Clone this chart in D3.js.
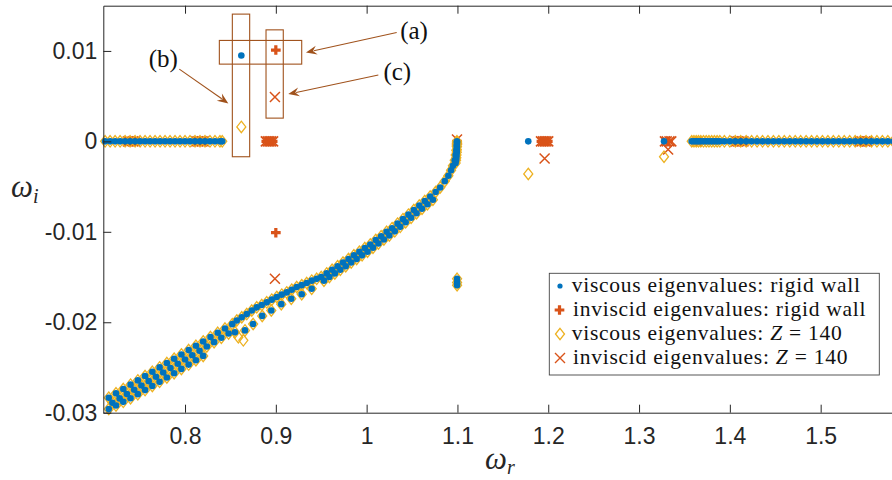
<!DOCTYPE html>
<html>
<head>
<meta charset="utf-8">
<script src="https://cdn.jsdelivr.net/npm/d3@7"></script>
<style>
  body { margin: 0; background: #fff; }
  svg { display: block; }
</style>
</head>
<body>
<script>
const width = 892
const height = 480
const margin = {top: 5.7, right: -1.3, bottom: 67.3, left: 103.3}

const blue = '#0072BD'
const red = '#D95319'
const yellow = '#EDB120'
const brown = '#a0521c'
const axisColor = '#262626'

// tick values and labels
const xTicks = [0.8, 0.9, 1, 1.1, 1.2, 1.3, 1.4, 1.5]
const xTickLabels = ['0.8', '0.9', '1', '1.1', '1.2', '1.3', '1.4', '1.5']
const yTicks = [0.01, 0, -0.01, -0.02, -0.03]
const yTickLabels = ['0.01', '0', '-0.01', '-0.02', '-0.03']

// omega_r of the neutral eigenvalues sitting on omega_i = 0 (both viscous series)
const zeroLeft = [0.712, 0.7175, 0.723, 0.7285, 0.734, 0.7395, 0.745, 0.7505, 0.756, 0.7615,
  0.767, 0.7725, 0.778, 0.7835, 0.789, 0.7945, 0.800, 0.8055, 0.811, 0.8165, 0.822, 0.8275,
  0.833, 0.8385, 0.841]
const zeroRight = [1.358, 1.3605, 1.363, 1.3655, 1.368, 1.371, 1.374, 1.377, 1.380, 1.383,
  1.386, 1.389, 1.394, 1.400, 1.406, 1.412, 1.418, 1.424, 1.430, 1.436, 1.442, 1.448, 1.454,
  1.460, 1.466, 1.472, 1.478, 1.484, 1.490, 1.496, 1.502, 1.508, 1.514, 1.520, 1.526, 1.532,
  1.538, 1.544, 1.550, 1.556, 1.562, 1.568, 1.574, 1.580]

// damped branch [omega_r, omega_i] (both viscous series)
const bandPts = [
  // upper row
  [0.716, -0.02834], [0.724, -0.02786], [0.732, -0.02738], [0.740, -0.02690], [0.748, -0.02643],
  [0.756, -0.02595], [0.764, -0.02547], [0.772, -0.02499], [0.780, -0.02451], [0.788, -0.02403],
  [0.796, -0.02356], [0.804, -0.02308], [0.812, -0.02260], [0.820, -0.02212], [0.828, -0.02164],
  [0.836, -0.02116], [0.844, -0.02069], [0.852, -0.02021],
  // middle row
  [0.720, -0.02890], [0.728, -0.02842], [0.736, -0.02794], [0.744, -0.02746], [0.752, -0.02699],
  [0.760, -0.02651], [0.768, -0.02603], [0.776, -0.02555], [0.784, -0.02507], [0.792, -0.02459],
  [0.800, -0.02412], [0.808, -0.02364], [0.816, -0.02316], [0.824, -0.02268], [0.832, -0.02220],
  [0.840, -0.02172], [0.848, -0.02125],
  // lower row
  [0.716, -0.02960], [0.724, -0.02920], [0.732, -0.02880], [0.740, -0.02840], [0.748, -0.02795],
  [0.756, -0.02750], [0.764, -0.02705], [0.772, -0.02659], [0.780, -0.02611], [0.788, -0.02563],
  [0.796, -0.02516], [0.804, -0.02468], [0.812, -0.02420], [0.820, -0.02372],
  // after the kink
  [0.855, -0.0211], [0.866, -0.0209], [0.875, -0.0202], [0.885, -0.0193], [0.895, -0.0187],
  [0.906, -0.0180], [0.917, -0.0174], [0.9285, -0.0169], [0.9395, -0.0163],
  [0.857, -0.0198], [0.8625, -0.01945], [0.868, -0.0191], [0.8735, -0.0187], [0.879, -0.01835],
  [0.8845, -0.0181], [0.890, -0.0178], [0.8955, -0.0175], [0.901, -0.0172], [0.9065, -0.01695],
  [0.912, -0.0167], [0.9175, -0.0164], [0.923, -0.0161], [0.9285, -0.0159], [0.934, -0.01566],
  [0.9395, -0.0154], [0.945, -0.0152],
  // towards omega_r = 1.1
  [0.950, -0.0150], [0.956, -0.0146], [0.962, -0.0142], [0.968, -0.0138], [0.974, -0.0134],
  [0.980, -0.0130], [0.986, -0.0126], [0.992, -0.0122], [0.998, -0.0118], [1.004, -0.0114],
  [1.010, -0.0109], [1.016, -0.0105], [1.022, -0.0100], [1.028, -0.0096], [1.034, -0.0091],
  [1.040, -0.0086], [1.046, -0.0081], [1.052, -0.0076], [1.058, -0.0071], [1.064, -0.0066],
  [1.070, -0.0061], [1.076, -0.0056], [1.081, -0.0051], [1.086, -0.0044], [1.090, -0.0038],
  [1.093, -0.0032], [1.095, -0.0027], [1.097, -0.0021], [1.098, -0.0015], [1.0988, -0.0010],
  [1.0992, -0.0005], [1.0995, -0.0001],
  [0.953, -0.0154], [0.959, -0.0150], [0.965, -0.0146], [0.971, -0.0142], [0.977, -0.0138],
  [0.983, -0.0134], [0.989, -0.0130], [0.995, -0.0126], [1.001, -0.0122], [1.007, -0.01175],
  [1.013, -0.0113], [1.019, -0.01085], [1.025, -0.0104], [1.031, -0.00995], [1.037, -0.00945],
  [1.043, -0.00895], [1.049, -0.00845], [1.055, -0.00795], [1.061, -0.00745], [1.067, -0.00695],
  [1.073, -0.00645],
  // spike at omega_r = 1.1
  [1.0995, 0], [1.0995, -0.0003], [1.0995, -0.0006], [1.0993, -0.0009], [1.0993, -0.0012],
  [1.0990, -0.0015], [1.0988, -0.0018], [1.0985, -0.0021], [1.0980, -0.0024]
]

const viscRigidExtra = [[0.862, 0.0095], [1.178, 0], [1.3275, 0],
  [1.0996, -0.0152], [1.0996, -0.0156], [1.0996, -0.0159]]
const viscZExtra = [[0.862, 0.0016], [1.178, -0.0036], [1.3275, -0.0017],
  [0.8587, -0.02166], [0.8642, -0.0220],
  [1.0996, -0.0152], [1.0996, -0.0156], [1.0996, -0.0159]]
const invRigid = [[0.9, 0.0101], [0.9, -0.0101],
  [0.7375, 0], [0.741, 0], [0.7445, 0], [0.813, 0], [0.8165, 0], [0.820, 0],
  [0.8895, 0], [0.893, 0], [0.8965, 0], [1.0995, 0],
  [1.1925, 0], [1.196, 0], [1.1995, 0], [1.332, 0], [1.3635, 0],
  [1.4075, 0], [1.411, 0], [1.4145, 0], [1.5435, 0], [1.547, 0], [1.5505, 0]]
const invZ = [[0.899, 0.0049], [0.899, -0.0152], [1.196, -0.0019], [1.332, -0.0009],
  [0.737, 0], [0.739, 0], [0.743, 0], [0.745, 0], [0.8125, 0], [0.8145, 0], [0.8185, 0], [0.8205, 0],
  [0.889, 0], [0.891, 0], [0.893, 0], [0.895, 0], [0.897, 0], [1.0995, 0.0002],
  [1.192, 0], [1.194, 0], [1.196, 0], [1.198, 0], [1.200, 0],
  [1.3285, 0], [1.3305, 0], [1.3335, 0], [1.3355, 0], [1.3635, 0],
  [1.407, 0], [1.409, 0], [1.413, 0], [1.415, 0], [1.543, 0], [1.545, 0], [1.549, 0], [1.551, 0]]

// annotation boxes [w0, w1, i0, i1], arrows [from, to], labels
const boxes = [[0.8521, 0.8712, -0.0017, 0.01407], [0.8378, 0.9285, 0.00854, 0.01116],
  [0.8892, 0.9082, 0.00257, 0.01233]]
const arrows = [[[1.0331, 0.01204], [0.9332, 0.00983]], [[0.7937, 0.00799], [0.8477, 0.0042]],
  [[1.0129, 0.00733], [0.9137, 0.00523]]]
const labels = [['(a)', 1.0522, 0.01222], ['(b)', 0.7761, 0.0091], ['(c)', 1.0338, 0.00762]]

const legendItems = ['viscous eigenvalues: rigid wall', 'inviscid eigenvalues: rigid wall',
  'viscous eigenvalues: ', 'inviscid eigenvalues: ']

const x = d3.scaleLinear().domain([0.71, 1.58]).range([margin.left, width - margin.right])
const y = d3.scaleLinear().domain([-0.03, 0.015]).range([height - margin.bottom, margin.top])

const svg = d3.select('body').append('svg').attr('width', width).attr('height', height)
  .style('font-family', '"Liberation Sans", Arial, sans-serif')

const viscPts = bandPts.concat(zeroLeft.map(d => [d, 0]), zeroRight.map(d => [d, 0]))

const diamond = 'M0,-5.7L4.5,0L0,5.7L-4.5,0Z'
const cross = 'M-5,-5L5,5M-5,5L5,-5'
const plus = d3.symbol(d3.symbolCross, 52)()

// markers
svg.append('g').selectAll('path').data(invRigid).join('path')
  .attr('d', plus).attr('fill', red)
  .attr('transform', d => `translate(${x(d[0])},${y(d[1])})`)
svg.append('g').selectAll('path').data(invZ).join('path')
  .attr('d', cross).attr('fill', 'none').attr('stroke', red).attr('stroke-width', 1.5)
  .attr('transform', d => `translate(${x(d[0])},${y(d[1])})`)
svg.append('g').selectAll('path').data(viscPts.concat(viscZExtra)).join('path')
  .attr('d', diamond).attr('fill', 'none').attr('stroke', yellow).attr('stroke-width', 1.3)
  .attr('transform', d => `translate(${x(d[0])},${y(d[1])})`)
svg.append('g').selectAll('circle').data(viscPts.concat(viscRigidExtra)).join('circle')
  .attr('cx', d => x(d[0])).attr('cy', d => y(d[1])).attr('r', 3.3).attr('fill', blue)

// axes
const styleAxis = g => {
  g.selectAll('.domain').attr('stroke', axisColor)
  g.selectAll('.tick line').attr('stroke', axisColor)
  g.selectAll('.tick text').attr('fill', axisColor).style('font-size', '23px')
  g.attr('font-family', null).attr('font-size', null)
}
svg.append('g').attr('transform', `translate(0,${y(-0.03)})`)
  .call(d3.axisBottom(x).tickValues(xTicks).tickFormat((d, i) => xTickLabels[i])
    .tickSizeInner(-8).tickSizeOuter(0).tickPadding(15))
  .call(styleAxis)
svg.append('g').attr('transform', `translate(0,${y(0.015)})`)
  .call(d3.axisTop(x).tickValues(xTicks).tickFormat('').tickSizeInner(-8).tickSizeOuter(0))
  .call(styleAxis)
svg.append('g').attr('transform', `translate(${x(0.71)},0)`)
  .call(d3.axisLeft(y).tickValues(yTicks).tickFormat((d, i) => yTickLabels[i])
    .tickSizeInner(-8).tickSizeOuter(0).tickPadding(6))
  .call(styleAxis)

// axis labels
const serif = '"Liberation Serif", "DejaVu Serif", serif'
const xl = svg.append('text').attr('x', 485).attr('y', 469)
  .attr('font-family', serif).attr('font-style', 'italic').attr('fill', axisColor)
xl.append('tspan').attr('font-size', 31).text('ω')
xl.append('tspan').attr('font-size', 20).attr('dy', 5).text('r')
const yl = svg.append('text').attr('x', 11).attr('y', 197)
  .attr('font-family', serif).attr('font-style', 'italic').attr('fill', axisColor)
yl.append('tspan').attr('font-size', 31).text('ω')
yl.append('tspan').attr('font-size', 20).attr('dy', 6).text('i')

// annotations
svg.append('g').selectAll('rect').data(boxes).join('rect')
  .attr('x', d => x(d[0])).attr('y', d => y(d[3]))
  .attr('width', d => x(d[1]) - x(d[0])).attr('height', d => y(d[2]) - y(d[3]))
  .attr('fill', 'none').attr('stroke', brown).attr('stroke-width', 1.1)

const ag = svg.append('g')
arrows.forEach(([a, b]) => {
  const x0 = x(a[0]), y0 = y(a[1]), x1 = x(b[0]), y1 = y(b[1])
  const ang = Math.atan2(y1 - y0, x1 - x0)
  const L = 11, W = 4.5
  const bx = x1 - L * Math.cos(ang), by = y1 - L * Math.sin(ang)
  const nx = -Math.sin(ang), ny = Math.cos(ang)
  ag.append('line').attr('x1', x0).attr('y1', y0).attr('x2', bx + 3 * Math.cos(ang)).attr('y2', by + 3 * Math.sin(ang))
    .attr('stroke', brown).attr('stroke-width', 1.1)
  const mx = x1 - 0.65 * L * Math.cos(ang), my = y1 - 0.65 * L * Math.sin(ang)
  ag.append('path')
    .attr('d', `M${x1},${y1}L${bx + W * nx},${by + W * ny}L${mx},${my}L${bx - W * nx},${by - W * ny}Z`)
    .attr('fill', brown)
})
svg.append('g').selectAll('text').data(labels).join('text')
  .attr('x', d => x(d[1])).attr('y', d => y(d[2])).attr('dy', '0.32em')
  .attr('text-anchor', 'middle').attr('font-family', serif).attr('font-size', 25)
  .attr('fill', '#111').text(d => d[0])

// legend
const lg = svg.append('g')
lg.append('rect').attr('x', 549.3).attr('y', 273.3).attr('width', 330).attr('height', 101.7)
  .attr('fill', '#fff').attr('stroke', '#444').attr('stroke-width', 0.9)
const rowY = [286, 310, 334, 358]
legendItems.forEach((t, i) => {
  const txt = lg.append('text').attr('x', i % 2 ? 573 : 571.7).attr('y', rowY[i]).attr('dy', '0.3em')
    .attr('font-family', serif).attr('font-size', 21.5).attr('letter-spacing', 0.75).attr('fill', '#111')
  txt.append('tspan').text(t)
  if (i >= 2) {
    txt.append('tspan').attr('font-style', 'italic').text('Z')
    txt.append('tspan').text(' = 140')
  }
})
lg.append('circle').attr('cx', 560).attr('cy', rowY[0]).attr('r', 2.6).attr('fill', blue)
lg.append('path').attr('d', plus).attr('fill', red).attr('transform', `translate(559.5,${rowY[1]})`)
lg.append('path').attr('d', diamond).attr('fill', 'none').attr('stroke', yellow).attr('stroke-width', 1.3)
  .attr('transform', `translate(560,${rowY[2]})`)
lg.append('path').attr('d', cross).attr('fill', 'none').attr('stroke', red).attr('stroke-width', 1.4)
  .attr('transform', `translate(560,${rowY[3]})`)
</script>
</body>
</html>
